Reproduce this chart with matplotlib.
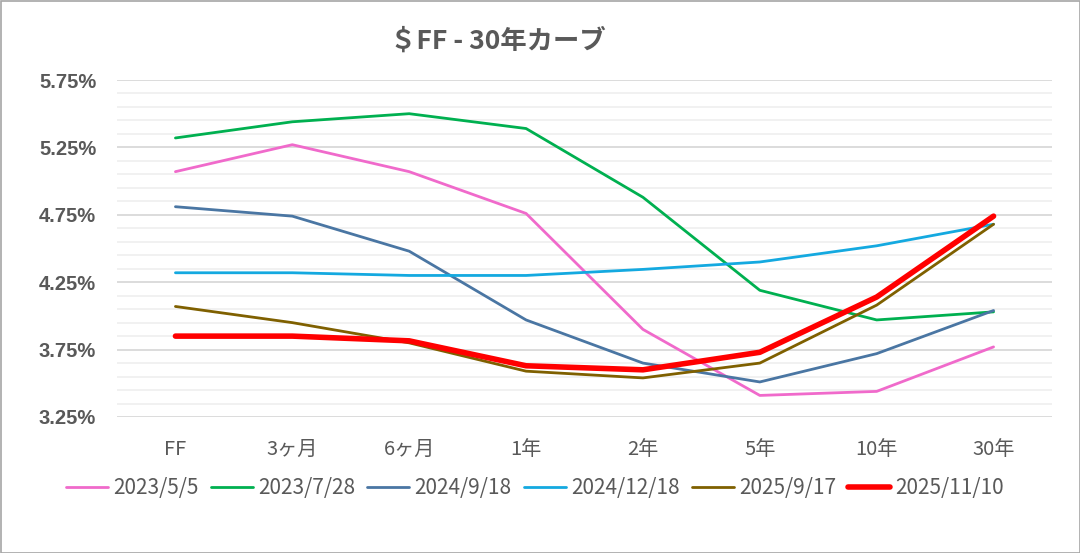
import matplotlib
matplotlib.use("Agg")
import matplotlib.pyplot as plt
import numpy as np
from matplotlib.ticker import FixedLocator, FuncFormatter
from matplotlib.patches import Rectangle

plt.rcParams['font.family'] = ['Noto Sans CJK JP', 'DejaVu Sans']

categories = ["FF", "3ヶ月", "6ヶ月", "1年", "2年", "5年", "10年", "30年"]
series_names = ["2023/5/5", "2023/7/28", "2024/9/18", "2024/12/18", "2025/9/17", "2025/11/10"]
s_2023_05_05 = [5.07, 5.27, 5.07, 4.76, 3.90, 3.41, 3.44, 3.77]
s_2023_07_28 = [5.32, 5.44, 5.50, 5.39, 4.88, 4.19, 3.97, 4.03]
s_2024_09_18 = [4.81, 4.74, 4.48, 3.97, 3.65, 3.51, 3.72, 4.04]
s_2024_12_18 = [4.32, 4.32, 4.30, 4.30, 4.345, 4.40, 4.52, 4.68]
s_2025_09_17 = [4.07, 3.95, 3.80, 3.59, 3.54, 3.65, 4.08, 4.68]
s_2025_11_10 = [3.85, 3.85, 3.815, 3.63, 3.60, 3.73, 4.14, 4.74]
series_values = [s_2023_05_05, s_2023_07_28, s_2024_09_18, s_2024_12_18, s_2025_09_17, s_2025_11_10]
y_major_ticks = [3.25, 3.75, 4.25, 4.75, 5.25, 5.75]
colors = ["#F06ACB", "#00B050", "#4A76A3", "#14A9E0", "#7F6000", "#FF0000"]
widths = [2.0, 2.0, 2.0, 2.0, 2.0, 4.0]
title = "＄FF - 30年カーブ"

fig = plt.figure(figsize=(10.8, 5.53), dpi=100)
ax = fig.add_axes([117/1080, 1-417/553, (1052-117)/1080, (417-80)/553])

x = list(range(len(categories)))
for name, vals, c, w in zip(series_names, series_values, colors, widths):
    ax.plot(x, vals, color=c, lw=w, label=name, solid_capstyle='round', zorder=3)

ax.set_xlim(-0.5, len(categories) - 0.5)
ax.set_ylim(y_major_ticks[0], y_major_ticks[-1])
ax.yaxis.set_major_locator(FixedLocator(y_major_ticks))
minor = [round(v, 2) for v in np.arange(y_major_ticks[0], y_major_ticks[-1] + 1e-9, 0.1)]
ax.yaxis.set_minor_locator(FixedLocator([m for m in minor if m not in y_major_ticks]))
ax.yaxis.set_major_formatter(FuncFormatter(lambda v, p: f"{v:.2f}%"))
ax.grid(which='major', axis='y', color='#D9D9D9', lw=1.3, zorder=0)
ax.grid(which='minor', axis='y', color='#F0F0F0', lw=1.3, zorder=0)
ax.set_xticks(x)
ax.set_xticklabels(categories)
for s in ax.spines.values():
    s.set_visible(False)
ax.tick_params(axis='both', which='both', length=0)
ax.tick_params(axis='x', pad=16, labelsize=14.5, labelcolor='#595959')
ax.tick_params(axis='y', pad=15, labelsize=14.5, labelcolor='#595959')
for lab in ax.get_yticklabels():
    lab.set_fontweight('bold')
    lab.set_fontfamily(['Liberation Sans', 'DejaVu Sans'])

fig.text(498/1080, 1-41/553, title, ha='center', va='center', fontsize=19,
         fontweight='bold', color='#595959')

leg = fig.legend(loc='center', bbox_to_anchor=(535/1080, 1-488/553), ncol=6,
                 frameon=False, fontsize=15, handlelength=2.0, handletextpad=0.25,
                 columnspacing=0.6, labelcolor='#595959')

fig.patches.append(Rectangle((0.5/1080, 0.5/553), 1-1/1080, 1-1/553, transform=fig.transFigure,
                             fill=False, edgecolor='#A6A6A6', lw=1.2))

fig.savefig("out.png", dpi=100)
